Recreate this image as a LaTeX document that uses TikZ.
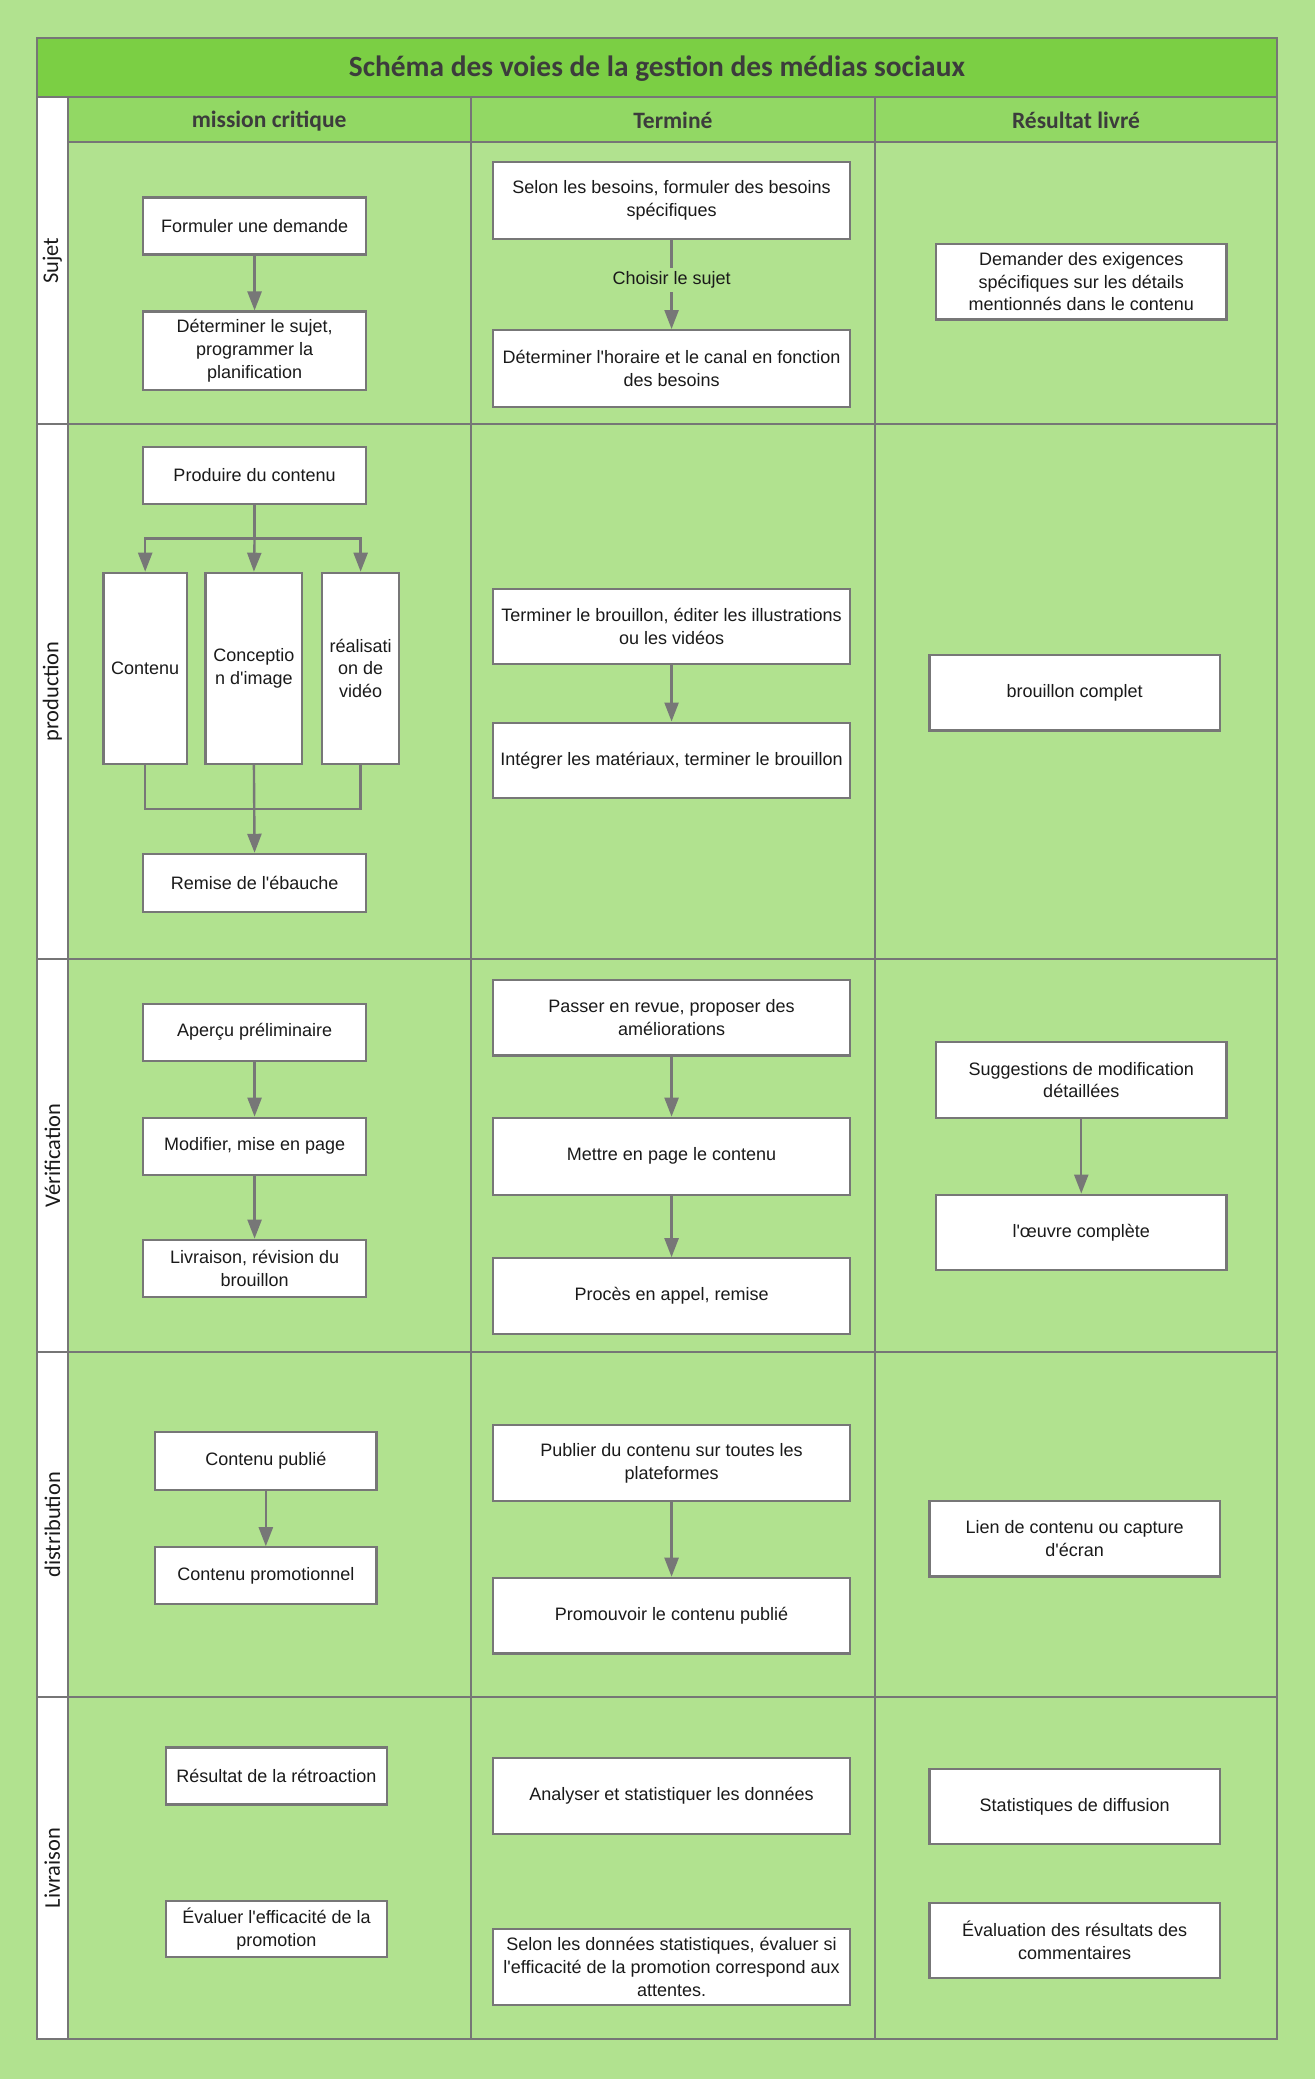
\documentclass[tikz,border=0pt]{standalone}
\usepackage{fontspec}
\setmainfont{Liberation Sans}[Ligatures=TeXOff]
\newfontfamily\calfont{Carlito}[Ligatures=TeXOff]
\usetikzlibrary{arrows.meta}
\definecolor{bg}{HTML}{B1E28F}
\definecolor{titlebg}{HTML}{7BCF44}
\definecolor{headbg}{HTML}{92D864}
\definecolor{gridc}{HTML}{767676}
\definecolor{boxline}{HTML}{777777}
\definecolor{txt}{HTML}{1A1A1A}
\tikzset{
  box/.style={draw=boxline, line width=1.1pt, fill=white, text=txt,
    font=\fontsize{9}{11.3}\selectfont, align=center, inner sep=1pt},
  arr/.style={draw=boxline, line width=1.2pt, -{Triangle[length=9.5pt,width=7pt]}},
  conn/.style={draw=boxline, line width=1.2pt},
  gridl/.style={draw=gridc, line width=1pt},
  lanelbl/.style={rotate=90, text=txt, font=\calfont\fontsize{11.2}{13}\selectfont},
  headlbl/.style={text=txt!85!white, font=\calfont\bfseries\fontsize{11.75}{14}\selectfont},
}
\newcommand\bx[6]{\node[box, minimum width={(#4-#2)*0.6628pt}, minimum height={(#5-#3)*0.6628pt}] (#1) at ({(#2+#4)/2},{(#3+#5)/2}) {#6};}
\begin{document}
\begin{tikzpicture}[x=0.6628pt, y=-0.6628pt]
\useasboundingbox (0,0) rectangle (992,1568);
\fill[bg] (0,0) rectangle (992,1568);
% title and header
\fill[titlebg] (28,29) rectangle (963,73);
\fill[headbg] (51,73) rectangle (963,107);
\fill[white] (28,73) rectangle (51,1538);
% grid
\draw[gridl] (28,29) rectangle (963,1538);
\draw[gridl] (28,73) -- (963,73);
\draw[gridl] (51,107) -- (963,107);
\draw[gridl] (51,73) -- (51,1538);
\draw[gridl] (355,73) -- (355,1538);
\draw[gridl] (660,73) -- (660,1538);
\foreach \yy in {320,723,1020,1280} \draw[gridl] (28,\yy) -- (963,\yy);
% title text
\node[text=txt!85!white, font=\calfont\bfseries\fontsize{14.7}{17}\selectfont] (title) at (495.5,52) {Schéma des voies de la gestion des médias sociaux};
\node[headlbl] (h1) at (203,91) {mission critique};
\node[headlbl] (h2) at (507.5,91) {Terminé};
\node[headlbl] (h3) at (811.5,91) {Résultat livré};
% lane labels
\node[lanelbl] (l1) at (39.5,196.5) {Sujet};
\node[lanelbl] (l2) at (39.5,521.5) {production};
\node[lanelbl] (l3) at (39.5,871.5) {Vérification};
\node[lanelbl] (l4) at (39.5,1150) {distribution};
\node[lanelbl] (l5) at (39.5,1409) {Livraison};
% Sujet row
\bx{fd}{108}{149}{276}{192}{Formuler une demande}
\bx{ds}{108}{235}{276}{294}{Déterminer le sujet,\\programmer la\\planification}
\bx{sb}{372}{122}{641}{180}{Selon les besoins, formuler des besoins\\spécifiques}
\bx{dh}{372}{249}{641}{307}{Déterminer l'horaire et le canal en fonction\\des besoins}
\bx{de}{706}{184}{925}{241}{Demander des exigences\\spécifiques sur les détails\\mentionnés dans le contenu}
\draw[arr] (fd.south) -- (ds.north);
\draw[arr] (sb.south) -- node[fill=bg, text=txt, inner sep=2pt, font=\fontsize{9}{11}\selectfont, pos=0.45] {Choisir le sujet} (dh.north);
% production row
\bx{pc}{108}{337}{276}{380}{Produire du contenu}
\bx{ct}{78}{432}{141}{576}{Contenu}
\bx{ci}{155}{432}{228}{576}{Conceptio\\n d'image}
\bx{rv}{243}{432}{301}{576}{réalisati\\on de\\vidéo}
\bx{re}{108}{644}{276}{688}{Remise de l'ébauche}
\bx{tb}{372}{444}{641}{501}{Terminer le brouillon, éditer les illustrations\\ou les vidéos}
\bx{im}{372}{545}{641}{602}{Intégrer les matériaux, terminer le brouillon}
\bx{bc}{701}{494}{920}{551}{brouillon complet}
\coordinate (fk) at (pc.south |- 0,406);
\coordinate (jn) at (ci.south |- 0,610);
\draw[conn] (pc.south) -- (fk);
\draw[arr] (fk) -| (ct.north);
\draw[arr] (fk) -- (ci.north);
\draw[arr] (fk) -| (rv.north);
\draw[conn] (ct.south) |- (jn) -| (rv.south);
\draw[arr] (ci.south) -- (re.north);
\draw[arr] (tb.south) -- (im.north);
% Verification row
\bx{ap}{108}{757}{276}{800}{Aperçu préliminaire}
\bx{mm}{108}{843}{276}{886}{Modifier, mise en page}
\bx{lr}{108}{935}{276}{978}{Livraison, révision du\\brouillon}
\bx{pr}{372}{739}{641}{796}{Passer en revue, proposer des\\améliorations}
\bx{mc}{372}{843}{641}{901}{Mettre en page le contenu}
\bx{pa}{372}{949}{641}{1006}{Procès en appel, remise}
\bx{sm}{706}{786}{925}{843}{Suggestions de modification\\détaillées}
\bx{oc}{706}{901}{925}{958}{l'œuvre complète}
\draw[arr] (ap.south) -- (mm.north);
\draw[arr] (mm.south) -- (lr.north);
\draw[arr] (pr.south) -- (mc.north);
\draw[arr] (mc.south) -- (pa.north);
\draw[arr] (sm.south) -- (oc.north);
% distribution row
\bx{cp}{117}{1080}{284}{1124}{Contenu publié}
\bx{cpr}{117}{1167}{284}{1210}{Contenu promotionnel}
\bx{pub}{372}{1075}{641}{1132}{Publier du contenu sur toutes les\\plateformes}
\bx{pro}{372}{1190}{641}{1247}{Promouvoir le contenu publié}
\bx{lc}{701}{1132}{920}{1189}{Lien de contenu ou capture\\d'écran}
\draw[arr] (cp.south) -- (cpr.north);
\draw[arr] (pub.south) -- (pro.north);
% Livraison row
\bx{rr}{125}{1318}{292}{1361}{Résultat de la rétroaction}
\bx{ee}{125}{1434}{292}{1476}{Évaluer l'efficacité de la\\promotion}
\bx{as}{372}{1326}{641}{1383}{Analyser et statistiquer les données}
\bx{sd}{372}{1455}{641}{1512}{Selon les données statistiques, évaluer si\\l'efficacité de la promotion correspond aux\\attentes.}
\bx{sdf}{701}{1334}{920}{1391}{Statistiques de diffusion}
\bx{er}{701}{1435}{920}{1492}{Évaluation des résultats des\\commentaires}
\end{tikzpicture}
\end{document}
